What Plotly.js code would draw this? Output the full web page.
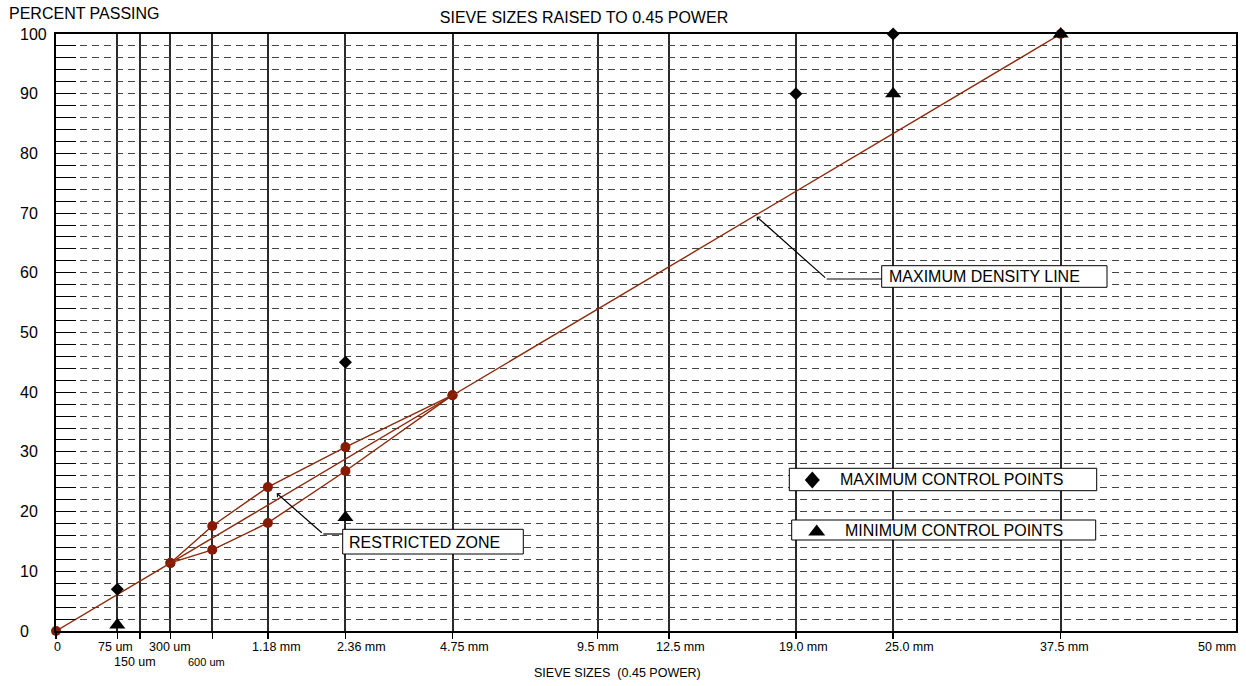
<!DOCTYPE html>
<html>
<head>
<meta charset="utf-8">
<script src="https://cdn.plot.ly/plotly-3.0.1.min.js"></script>
<style>
  html, body { margin: 0; padding: 0; background: #fff; }
  #chart { width: 1246px; height: 686px; }
</style>
</head>
<body>
<div id="chart"></div>
<script>
// ---------------- DATA ----------------
const POWER = 0.45;
// sieve sizes (mm) marked on the x axis
const sieveMM = [0.075, 0.15, 0.3, 0.6, 1.18, 2.36, 4.75, 9.5, 12.5, 19.0, 25.0, 37.5];
const sieveLabels = ['75 um', '150 um', '300 um', '600 um', '1.18 mm', '2.36 mm', '4.75 mm',
                     '9.5 mm', '12.5 mm', '19.0 mm', '25.0 mm', '37.5 mm'];
const secondRowLabels = ['150 um', '600 um'];
const zeroLabel = '0';
const endLabel = '50 mm';
const yTickValues = [0, 10, 20, 30, 40, 50, 60, 70, 80, 90, 100];

// maximum density line
const mdlSizes = [0, 37.5];
const mdlPassing = [0, 100];
// restricted zone boundaries
const rzSizes = [0.3, 0.6, 1.18, 2.36, 4.75];
const rzUpper = [11.4, 17.6, 24.1, 30.8, 39.5];
const rzLower = [11.4, 13.6, 18.1, 26.8, 39.5];
// control points
const maxCtrlSizes = [0.075, 2.36, 19.0, 25.0];
const maxCtrlPassing = [7, 45, 90, 100];
const minCtrlSizes = [0.075, 2.36, 25.0, 37.5];
const minCtrlPassing = [1, 19, 90, 100];

// ---------------- STYLE / LAYOUT HELPERS ----------------
// horizontal nudges (px) of the sieve labels relative to their sieve line, as laid out in the original
const labelShiftPx = [-2, -5, 0, -6, 9, 16, 12, 0, 12, 8, 16, 4];
const X_END = 6.0;                 // end of the 0.45-power axis (labelled 50 mm)
const PL = 56, PR = 1236, PT = 34, PB = 631;
const pw = (s) => Math.pow(s, POWER);
const PX = (px) => (px - PL) / (PR - PL);          // pixel -> paper x
const PY = (py) => (PB - py) / (PB - PT);          // pixel -> paper y
const DX = (px) => PX(px) * X_END;                 // pixel -> data x
const DY = (py) => PY(py) * 100;                   // pixel -> data y

const FONT = 'Liberation Sans, Arial, Helvetica, sans-serif';
const LINE_COL = '#8e2a0c';
const DOT_COL = '#861a04';

const tickVals = [0].concat(sieveMM.map(pw));

// ---------------- TRACES ----------------
const traces = [
  {
    x: rzSizes.map(pw), y: rzUpper, type: 'scatter', mode: 'lines+markers',
    line: {color: LINE_COL, width: 1.4}, marker: {color: DOT_COL, size: 10},
    cliponaxis: false
  },
  {
    x: rzSizes.map(pw), y: rzLower, type: 'scatter', mode: 'lines+markers',
    line: {color: LINE_COL, width: 1.4}, marker: {color: DOT_COL, size: 10},
    cliponaxis: false
  },
  {
    x: mdlSizes.map(pw), y: mdlPassing, type: 'scatter', mode: 'lines+markers',
    line: {color: LINE_COL, width: 1.4}, marker: {color: DOT_COL, size: 10},
    cliponaxis: false
  },
  {
    x: maxCtrlSizes.map(pw), y: maxCtrlPassing, type: 'scatter', mode: 'markers',
    marker: {symbol: 'diamond', color: '#000', size: 10}, cliponaxis: false
  },
  {
    x: minCtrlSizes.map(pw), y: minCtrlPassing, type: 'scatter', mode: 'markers',
    marker: {symbol: 'triangle-up', color: '#000', size: 14}, cliponaxis: false
  }
];

// ---------------- ANNOTATIONS ----------------
const annotations = [];
const tickFont = {family: FONT, size: 12.5, color: '#000'};
yTickValues.forEach(v => annotations.push({
  xref: 'paper', yref: 'y', x: PX(18), y: v, xanchor: 'left', yanchor: 'middle',
  text: String(v), showarrow: false, font: {family: FONT, size: 16, color: '#000'}
}));
// x (sieve) labels
annotations.push({
  xref: 'x', yref: 'paper', x: 0, y: PY(646.7), xshift: 1.5, xanchor: 'center', yanchor: 'middle',
  text: zeroLabel, showarrow: false, font: tickFont
});
sieveLabels.forEach((l, i) => {
  const row2 = secondRowLabels.indexOf(l) >= 0;
  annotations.push({
    xref: 'x', yref: 'paper', x: pw(sieveMM[i]), y: PY(row2 ? 662 : 646.7), xshift: labelShiftPx[i],
    xanchor: 'center', yanchor: 'middle', text: l, showarrow: false,
    font: {family: FONT, size: l === '600 um' ? 11 : 12.5, color: '#000'}
  });
});
annotations.push({
  xref: 'paper', yref: 'paper', x: PX(1217), y: PY(646.7), xanchor: 'center', yanchor: 'middle',
  text: endLabel, showarrow: false, font: tickFont
});
annotations.push({
  xref: 'paper', yref: 'paper', x: PX(7), y: PY(13.5), xanchor: 'left', yanchor: 'middle',
  text: 'PERCENT PASSING', showarrow: false, font: {family: FONT, size: 16, color: '#000'}
});
annotations.push({
  xref: 'paper', yref: 'paper', x: PX(617), y: PY(673), xanchor: 'center', yanchor: 'middle',
  text: 'SIEVE SIZES&nbsp;&nbsp;(0.45 POWER)', showarrow: false, font: tickFont
});

// callout boxes text
const boxFont = {family: FONT, size: 16, color: '#000'};
annotations.push({xref: 'paper', yref: 'paper', x: PX(886.5), y: PY(276.8), xanchor: 'left', yanchor: 'middle',
  text: 'MAXIMUM DENSITY LINE', showarrow: false, font: boxFont});
annotations.push({xref: 'paper', yref: 'paper', x: PX(346.5), y: PY(542), xanchor: 'left', yanchor: 'middle',
  text: 'RESTRICTED ZONE', showarrow: false, font: boxFont});
annotations.push({xref: 'paper', yref: 'paper', x: PX(838), y: PY(479.8), xanchor: 'left', yanchor: 'middle',
  text: 'MAXIMUM CONTROL POINTS', showarrow: false, font: boxFont});
annotations.push({xref: 'paper', yref: 'paper', x: PX(842.5), y: PY(530.3), xanchor: 'left', yanchor: 'middle',
  text: 'MINIMUM CONTROL POINTS', showarrow: false, font: boxFont});

// arrows
[[756.7, 216.7, 826.7, 279], [276.7, 493.3, 323.3, 534]].forEach(a => annotations.push({
  xref: 'x', yref: 'y', axref: 'x', ayref: 'y', x: DX(a[0]), y: DY(a[1]), ax: DX(a[2]), ay: DY(a[3]),
  text: '', showarrow: true, arrowhead: 4, arrowsize: 0.8, arrowwidth: 1.2, arrowcolor: '#000',
  standoff: 0, startstandoff: 0
}));

// ---------------- SHAPES ----------------
const shapes = [];
const box = (x0, y0, x1, y1) => ({
  type: 'rect', xref: 'paper', yref: 'paper', x0: PX(x0), x1: PX(x1), y0: PY(y0), y1: PY(y1),
  line: {color: '#000', width: 1}, fillcolor: '#ffffff', opacity: 1, layer: 'above'
});
shapes.push(box(881.7, 265.7, 1107, 287.3));
shapes.push(box(342.7, 529.3, 523.3, 554));
shapes.push(box(789.3, 468.3, 1096.7, 490.7));
shapes.push(box(791.7, 520, 1095.7, 540));
// elbow segments of the callouts
[[826.7, 279, 881.7], [323.3, 534, 342.7]].forEach(s => shapes.push({
  type: 'line', xref: 'paper', yref: 'paper', x0: PX(s[0]), x1: PX(s[2]), y0: PY(s[1]), y1: PY(s[1]),
  line: {color: '#000', width: 1.2}, layer: 'above'
}));
// legend glyphs
shapes.push({
  type: 'path', xref: 'paper', yref: 'paper', xsizemode: 'pixel', ysizemode: 'pixel',
  xanchor: PX(812.3), yanchor: PY(480), path: 'M-7.5,0 L0,8.5 L7.5,0 L0,-8.5 Z',
  fillcolor: '#000', line: {width: 0}, layer: 'above'
});
shapes.push({
  type: 'path', xref: 'paper', yref: 'paper', xsizemode: 'pixel', ysizemode: 'pixel',
  xanchor: PX(816.7), yanchor: PY(530), path: 'M-8.5,-5.5 L8.5,-5.5 L0,5.5 Z',
  fillcolor: '#000', line: {width: 0}, layer: 'above'
});

const layout = {
  width: 1246, height: 686,
  margin: {l: PL, r: 1246 - PR, t: PT, b: 686 - PB, pad: 0},
  paper_bgcolor: '#fff', plot_bgcolor: '#fff',
  showlegend: false,
  font: {family: FONT, color: '#000'},
  title: {
    text: 'SIEVE SIZES RAISED TO 0.45 POWER',
    font: {family: FONT, size: 16, color: '#000'},
    xref: 'container', yref: 'container', x: 584 / 1246, y: 1 - 17.5 / 686,
    xanchor: 'center', yanchor: 'middle'
  },
  xaxis: {
    range: [0, X_END], tickmode: 'array', tickvals: tickVals, showticklabels: false,
    showgrid: true, gridcolor: '#2a2a2a', gridwidth: 2,
    showline: true, linecolor: '#000', linewidth: 2, mirror: true,
    ticks: 'outside', ticklen: 6, tickcolor: '#000', tickwidth: 1.5,
    zeroline: false, fixedrange: true
  },
  yaxis: {
    range: [0, 100], tick0: 0, dtick: 2,
    showgrid: true, gridcolor: '#444', gridwidth: 1, griddash: '7px,5px',
    showline: true, linecolor: '#000', linewidth: 2, mirror: true,
    ticks: 'inside', ticklen: 20, tickcolor: '#000', tickwidth: 1,
    showticklabels: false, zeroline: false, fixedrange: true
  },
  annotations: annotations,
  shapes: shapes
};

Plotly.newPlot('chart', traces, layout, {staticPlot: true, displayModeBar: false});
</script>
</body>
</html>
